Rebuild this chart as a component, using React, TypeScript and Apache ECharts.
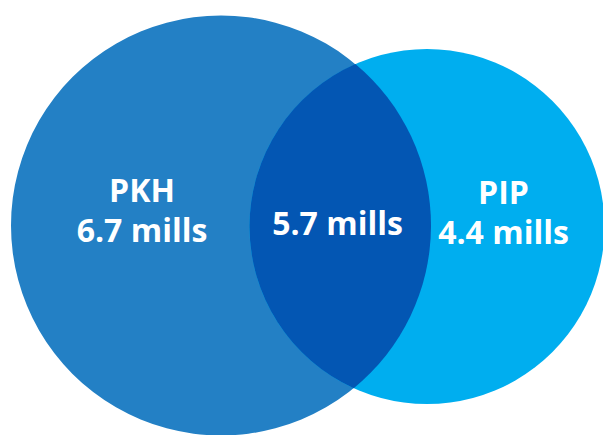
import React, { useEffect, useRef } from "react";
import * as echarts from "echarts";

// ---- data ----
const setNames = ["PKH", "PIP"];
const setValues = [6.7, 4.4];
const overlapValue = 5.7;
const unit = "mills";

// ---- layout (data units on a hidden 603 x 435 canvas) ----
const circleCenters = [
  [221, 225.5],
  [427, 226.5],
];
const circleRadii = [210, 177.5];
const setColors = ["#2380C5", "#00AEEF"];
const overlapColor = "#0356B3";
const labelPositions = [
  [142, 209.5],
  [503.5, 211.5],
];
const overlapLabelPosition = [337.5, 222.5];

const FONT = '"Open Sans", "Noto Sans", sans-serif';

export default function App() {
  const ref = useRef<HTMLDivElement>(null);

  useEffect(() => {
    document.body.style.margin = "0";
    if (!ref.current) return;
    const chart = echarts.init(ref.current, undefined, { renderer: "svg" });

    const circleData = setNames.map((n, i) => ({
      name: n,
      value: [circleCenters[i][0], circleCenters[i][1], circleRadii[i], i],
    }));

    const labelData = [
      ...setNames.map((n, i) => ({
        name: n,
        value: [labelPositions[i][0], labelPositions[i][1], setValues[i]],
        text: `${n}\n${setValues[i]} ${unit}`,
      })),
      {
        name: "overlap",
        value: [overlapLabelPosition[0], overlapLabelPosition[1], overlapValue],
        text: `${overlapValue} ${unit}`,
      },
    ];

    chart.setOption({
      animation: false,
      grid: { left: 0, right: 0, top: 0, bottom: 0 },
      xAxis: { type: "value", min: 0, max: 603, show: false },
      yAxis: { type: "value", min: 0, max: 435, inverse: true, show: false },
      series: [
        {
          type: "custom",
          coordinateSystem: "cartesian2d",
          data: circleData,
          silent: true,
          renderItem: (params: any, api: any) => {
            const c = api.coord([api.value(0), api.value(1)]);
            const r = api.size([api.value(2), 0])[0];
            const idx = api.value(3);
            return {
              type: "circle",
              shape: { cx: c[0], cy: c[1], r },
              style: { fill: setColors[idx] },
            };
          },
        },
        {
          type: "custom",
          coordinateSystem: "cartesian2d",
          data: [{ name: "overlap", value: [0, 0] }],
          silent: true,
          renderItem: (params: any, api: any) => {
            const c1 = api.coord(circleCenters[0]);
            const c2 = api.coord(circleCenters[1]);
            const r1 = api.size([circleRadii[0], 0])[0];
            const r2 = api.size([circleRadii[1], 0])[0];
            const dx = c2[0] - c1[0];
            const dy = c2[1] - c1[1];
            const d = Math.sqrt(dx * dx + dy * dy);
            const a = (r1 * r1 - r2 * r2 + d * d) / (2 * d);
            const h = Math.sqrt(Math.max(r1 * r1 - a * a, 0));
            const mx = c1[0] + (a * dx) / d;
            const my = c1[1] + (a * dy) / d;
            const ux = -dy / d;
            const uy = dx / d;
            // top and bottom intersection points
            const p1 = [mx - h * ux, my - h * uy];
            const p2 = [mx + h * ux, my + h * uy];
            const top = p1[1] < p2[1] ? p1 : p2;
            const bot = p1[1] < p2[1] ? p2 : p1;
            const pathData =
              `M${top[0]},${top[1]} ` +
              `A${r1},${r1} 0 0 1 ${bot[0]},${bot[1]} ` +
              `A${r2},${r2} 0 0 1 ${top[0]},${top[1]} Z`;
            return {
              type: "path",
              shape: { pathData },
              style: { fill: overlapColor },
            };
          },
        },
        {
          type: "custom",
          coordinateSystem: "cartesian2d",
          data: labelData,
          silent: true,
          renderItem: (params: any, api: any) => {
            const item = labelData[params.dataIndex];
            const c = api.coord([api.value(0), api.value(1)]);
            return {
              type: "text",
              x: c[0],
              y: c[1],
              style: {
                text: item.text,
                fill: "#ffffff",
                fontFamily: FONT,
                fontWeight: "bold",
                fontSize: 32,
                lineHeight: 40,
                align: "center",
                verticalAlign: "middle",
              },
            };
          },
        },
      ],
    });

    return () => chart.dispose();
  }, []);

  return <div ref={ref} style={{ width: 603, height: 435 }} />;
}
